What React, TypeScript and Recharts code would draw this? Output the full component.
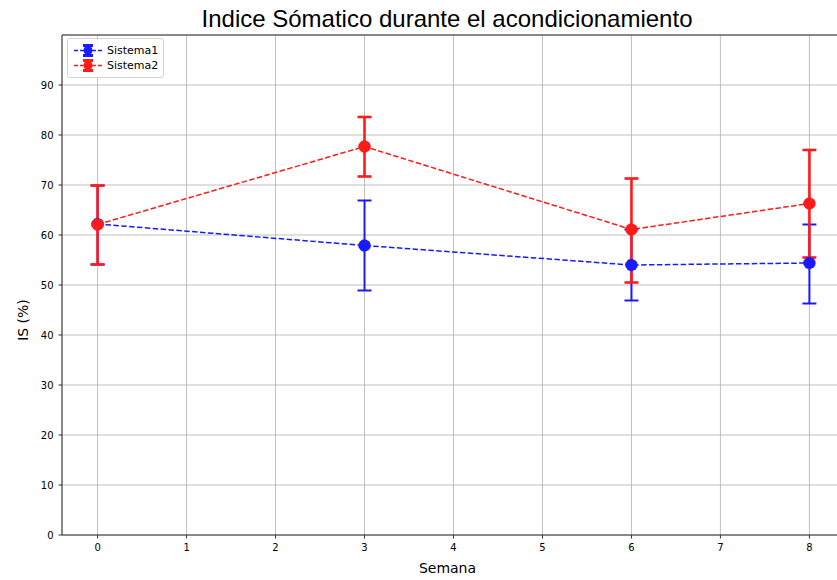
import {
  ComposedChart,
  Line,
  XAxis,
  YAxis,
  CartesianGrid,
  ErrorBar,
  ReferenceLine,
} from "recharts";

const semanas = [0, 3, 6, 8];
const sistema1 = [62.2, 57.9, 54.0, 54.4];
const sistema1Err: [number, number][] = [
  [8.1, 7.7],
  [9.0, 9.0],
  [7.1, 7.1],
  [8.1, 7.7],
];
const sistema2 = [62.1, 77.7, 61.1, 66.3];
const sistema2Err: [number, number][] = [
  [8.0, 7.8],
  [6.0, 5.9],
  [10.6, 10.2],
  [10.8, 10.7],
];
const xTicks = [0, 1, 2, 3, 4, 5, 6, 7, 8];
const yTicks = [0, 10, 20, 30, 40, 50, 60, 70, 80, 90];

const BLUE = "#1a1aff";
const RED = "#ff1a1a";
const FONT = "DejaVu Sans, sans-serif";

const data = semanas.map((s, i) => ({
  semana: s,
  s1: sistema1[i],
  e1: sistema1Err[i],
  s2: sistema2[i],
  e2: sistema2Err[i],
}));

function LegendIcon({ color }: { color: string }) {
  return (
    <svg width={28} height={13} style={{ display: "block" }}>
      <line x1={0} y1={6.5} x2={28} y2={6.5} stroke={color} strokeWidth={1.5} strokeDasharray="4 2" />
      <line x1={14} y1={1} x2={14} y2={12} stroke={color} strokeWidth={2} />
      <line x1={9} y1={1.5} x2={19} y2={1.5} stroke={color} strokeWidth={3} />
      <line x1={9} y1={11.5} x2={19} y2={11.5} stroke={color} strokeWidth={3} />
      <circle cx={14} cy={6.5} r={4.5} fill={color} />
    </svg>
  );
}

export default function App() {
  return (
    <div
      style={{
        position: "absolute",
        left: 0,
        top: 0,
        width: 837,
        height: 580,
        overflow: "hidden",
        background: "#fff",
      }}
    >
      <div
        style={{
          position: "absolute",
          left: 0,
          top: 5,
          width: 894,
          textAlign: "center",
          fontFamily: "Liberation Sans, Arial, sans-serif",
          fontSize: 24,
          color: "#000",
          whiteSpace: "nowrap",
        }}
      >
        Indice Sómatico durante el acondicionamiento
      </div>

      <ComposedChart
        width={845}
        height={580}
        data={data}
        margin={{ top: 35, right: 0, bottom: 15, left: 0 }}
        style={{ position: "absolute", left: 0, top: 0 }}
      >
        <CartesianGrid stroke="#b0b0b0" strokeWidth={0.8} />
        <XAxis
          type="number"
          dataKey="semana"
          domain={[-0.4, 8.4]}
          ticks={xTicks}
          allowDataOverflow
          height={30}
          tickSize={3.5}
          tickMargin={5}
          stroke="#333"
          tick={{ fill: "#000", fontSize: 10, fontFamily: FONT }}
          label={({ viewBox }: any) => (
            <text
              x={viewBox.x + viewBox.width / 2 - 6}
              y={viewBox.y + 38}
              textAnchor="middle"
              fontFamily={FONT}
              fontSize={14}
              fill="#000"
            >
              Semana
            </text>
          )}
        />
        <YAxis
          type="number"
          domain={[0, 100]}
          ticks={yTicks}
          allowDataOverflow
          width={62}
          tickSize={3.5}
          tickMargin={5}
          stroke="#333"
          tick={{ fill: "#000", fontSize: 10, fontFamily: FONT }}
          label={({ viewBox }: any) => {
            const cx = 28;
            const cy = viewBox.y + viewBox.height / 2 + 35;
            return (
              <text
                x={cx}
                y={cy}
                textAnchor="middle"
                fontFamily={FONT}
                fontSize={14}
                fill="#000"
                transform={`rotate(-90, ${cx}, ${cy})`}
              >
                IS (%)
              </text>
            );
          }}
        />
        <ReferenceLine y={100} stroke="#333" strokeWidth={1} />
        <Line
          dataKey="s1"
          stroke={BLUE}
          strokeWidth={1.5}
          strokeDasharray="5.5 2.4"
          dot={{ r: 6, fill: BLUE, stroke: BLUE, strokeWidth: 0.5 }}
          isAnimationActive={false}
        >
          <ErrorBar dataKey="e1" direction="y" width={7} strokeWidth={2} stroke={BLUE} />
        </Line>
        <Line
          dataKey="s2"
          stroke={RED}
          strokeWidth={1.5}
          strokeDasharray="5.5 2.4"
          dot={{ r: 6, fill: RED, stroke: RED, strokeWidth: 0.5 }}
          isAnimationActive={false}
        >
          <ErrorBar dataKey="e2" direction="y" width={7} strokeWidth={2.6} stroke={RED} />
        </Line>
      </ComposedChart>

      <div
        style={{
          position: "absolute",
          left: 67,
          top: 38,
          width: 97,
          height: 40,
          boxSizing: "border-box",
          border: "1px solid #d5d5d5",
          borderRadius: 3,
          background: "rgba(255,255,255,0.85)",
          fontFamily: FONT,
          fontSize: 11,
          color: "#000",
          padding: "4px 0 0 6px",
        }}
      >
        {[
          { name: "Sistema1", color: BLUE },
          { name: "Sistema2", color: RED },
        ].map((e) => (
          <div key={e.name} style={{ display: "flex", alignItems: "center", height: 15 }}>
            <LegendIcon color={e.color} />
            <span style={{ marginLeft: 5 }}>{e.name}</span>
          </div>
        ))}
      </div>
    </div>
  );
}
